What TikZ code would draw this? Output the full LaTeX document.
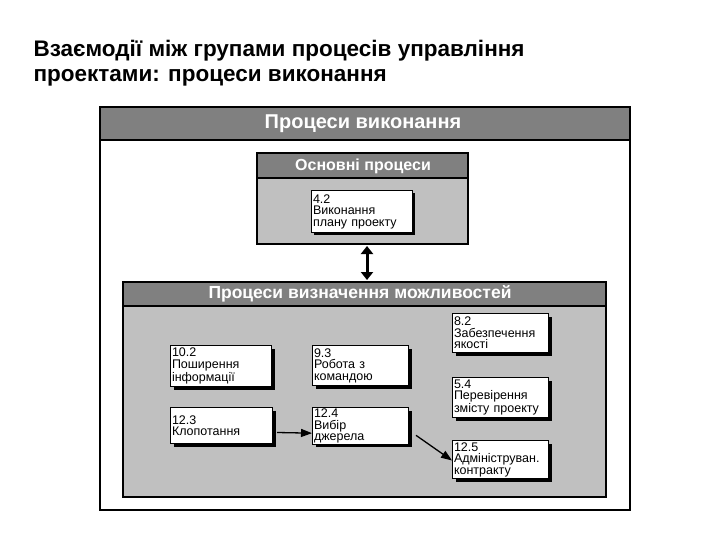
\documentclass[tikz,border=0pt]{standalone}
\usepackage{fontspec}
\setmainfont{Liberation Sans}
\usetikzlibrary{arrows.meta}
\definecolor{dg}{HTML}{808080}
\definecolor{lg}{HTML}{C0C0C0}
\begin{document}
\begin{tikzpicture}[x=1pt,y=-1pt,
 box/.style={draw=black,line width=1pt,fill=white,anchor=north west,align=left,font=\fontsize{12.5}{11.5}\selectfont,inner sep=1.5pt,text width=#1-3pt,minimum height=38pt},
 hdr/.style={text=white,font=\bfseries\fontsize{20}{22}\selectfont},
 arr/.style={-{Triangle[length=11pt,width=8pt]},line width=1.3pt}]
\useasboundingbox (0,0) rectangle (720,540);
\node[anchor=west,font=\bfseries\fontsize{22.5}{24}\selectfont] (t1) at (30,51) {Взаємодії між групами процесів управління};
\node[anchor=west,font=\bfseries\fontsize{22.5}{24}\selectfont] (t2) at (30,78) {проектами: процеси виконання};
% outer
\draw[line width=1.5pt,fill=white] (100,107) rectangle (630,510);
\draw[line width=1.5pt,fill=dg] (100,107) rectangle (630,140);
\node[hdr] (h1) at (363,124) {Процеси виконання};
% main processes
\draw[line width=1.5pt,fill=lg] (257,153) rectangle (468,244);
\draw[line width=1.5pt,fill=dg] (257,153) rectangle (468,178);
\node[hdr,font=\bfseries\fontsize{16}{18}\selectfont] (h2) at (363,166) {Основні процеси};
\fill (314,193) rectangle (415,235);
\node[box=101pt,minimum height=42pt] (n42) at (311,190) {4.2\\Виконання\\плану проекту};
% lower box
\draw[line width=1.5pt,fill=lg] (123,282) rectangle (606,497);
\draw[line width=1.5pt,fill=dg] (123,282) rectangle (606,306);
\node[hdr,font=\bfseries\fontsize{17.5}{19}\selectfont] (h3) at (360,294) {Процеси визначення можливостей};
\coordinate (u) at (367,246);
\coordinate (d) at (367,280);
\draw[{Triangle[length=8pt,width=12pt]}-{Triangle[length=8pt,width=12pt]},line width=3pt] (u) -- (d);
% shadows
\foreach \x/\y/\w/\h in {170/345/101/41, 312/345/96/40, 452/313/96/39, 170/407/102/36, 312/407/96/36, 452/377/96/40, 452/440/96/38}
  \fill (\x+4,\y+4) rectangle (\x+\w+4,\y+\h+4);
\node[box=101pt,minimum height=41pt] (n102) at (170,345) {10.2\\Поширення\\інформації};
\node[box=96pt,minimum height=40pt] (n93) at (312,345) {9.3\\Робота з\\командою};
\node[box=96pt,minimum height=39pt] (n82) at (452,313) {8.2\\Забезпечення\\якості};
\node[box=102pt,minimum height=36pt] (n123) at (170,407) {12.3\\Клопотання};
\node[box=96pt,minimum height=36pt] (n124) at (312,407) {12.4\\Вибір\\джерела};
\node[box=96pt,minimum height=40pt] (n54) at (452,377) {5.4\\Перевірення\\змісту проекту};
\node[box=96pt,minimum height=38pt] (n125) at (452,440) {12.5\\Адмініструван.\\контракту};
\draw[arr] ([xshift=4pt,yshift=-7pt]n123.east) -- ([yshift=-7pt]n124.west);
\draw[arr] ([xshift=7pt,yshift=10pt]n124.south east) -- ([yshift=-1pt]n125.west);
\end{tikzpicture}
\end{document}
